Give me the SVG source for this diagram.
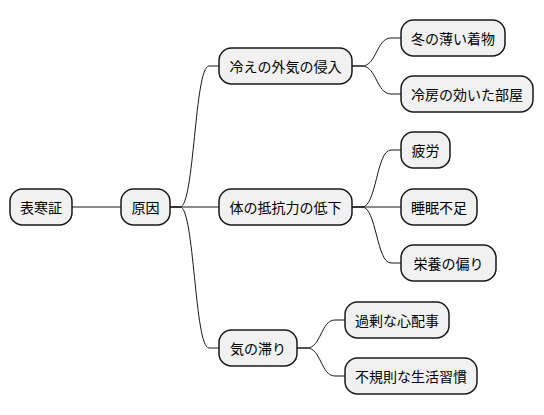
<svg xmlns="http://www.w3.org/2000/svg" width="544" height="415" viewBox="0 0 544 415">
<style>
.n rect{fill:#F1F1F1;stroke:#181818;stroke-width:1.5}
.n text{font-family:"Noto Sans CJK JP","Noto Sans CJK SC",sans-serif;font-size:14px;fill:#000;text-anchor:middle;dominant-baseline:central}
#c path{fill:none;stroke:#181818;stroke-width:1}
</style>
<rect width="544" height="415" fill="#FFFFFF"/>
<g id="c">
<path d="M72,207 L121,207"/>
<path d="M170,207 L180,207 C194.5,207 194.5,66 209,66 L219,66"/>
<path d="M170,207 L219,207"/>
<path d="M170,207 L180,207 C194.5,207 194.5,348 209,348 L219,348"/>
<path d="M352,66 L362,66 C376.5,66 376.5,38 391,38 L401,38"/>
<path d="M352,66 L362,66 C376.5,66 376.5,94 391,94 L401,94"/>
<path d="M352,207 L362,207 C376.5,207 376.5,150 391,150 L401,150"/>
<path d="M352,207 L401,207"/>
<path d="M352,207 L362,207 C376.5,207 376.5,263 391,263 L401,263"/>
<path d="M297,348 L307,348 C321,348 321,320 335,320 L345,320"/>
<path d="M297,348 L307,348 C321,348 321,376 335,376 L345,376"/>
</g>
<g id="n1" class="n"><rect x="10" y="189" width="62" height="36" rx="12.5"/><text x="41" y="207">表寒証</text></g>
<g id="n2" class="n"><rect x="121" y="189" width="49" height="36" rx="12.5"/><text x="145.5" y="207">原因</text></g>
<g id="n3" class="n"><rect x="219" y="48" width="133" height="36" rx="12.5"/><text x="285.5" y="66">冷えの外気の侵入</text></g>
<g id="n4" class="n"><rect x="401" y="20" width="104" height="36" rx="12.5"/><text x="453" y="38">冬の薄い着物</text></g>
<g id="n5" class="n"><rect x="401" y="76" width="132" height="36" rx="12.5"/><text x="467" y="94">冷房の効いた部屋</text></g>
<g id="n6" class="n"><rect x="219" y="189" width="133" height="36" rx="12.5"/><text x="285.5" y="207">体の抵抗力の低下</text></g>
<g id="n7" class="n"><rect x="401" y="132" width="49" height="36" rx="12.5"/><text x="425.5" y="150">疲労</text></g>
<g id="n8" class="n"><rect x="401" y="189" width="76" height="36" rx="12.5"/><text x="439" y="207">睡眠不足</text></g>
<g id="n9" class="n"><rect x="401" y="245" width="95" height="36" rx="12.5"/><text x="448.5" y="263">栄養の偏り</text></g>
<g id="n10" class="n"><rect x="219" y="330" width="78" height="36" rx="12.5"/><text x="258" y="348">気の滞り</text></g>
<g id="n11" class="n"><rect x="345" y="302" width="104" height="36" rx="12.5"/><text x="397" y="320">過剰な心配事</text></g>
<g id="n12" class="n"><rect x="345" y="358" width="132" height="36" rx="12.5"/><text x="411" y="376">不規則な生活習慣</text></g>
</svg>
